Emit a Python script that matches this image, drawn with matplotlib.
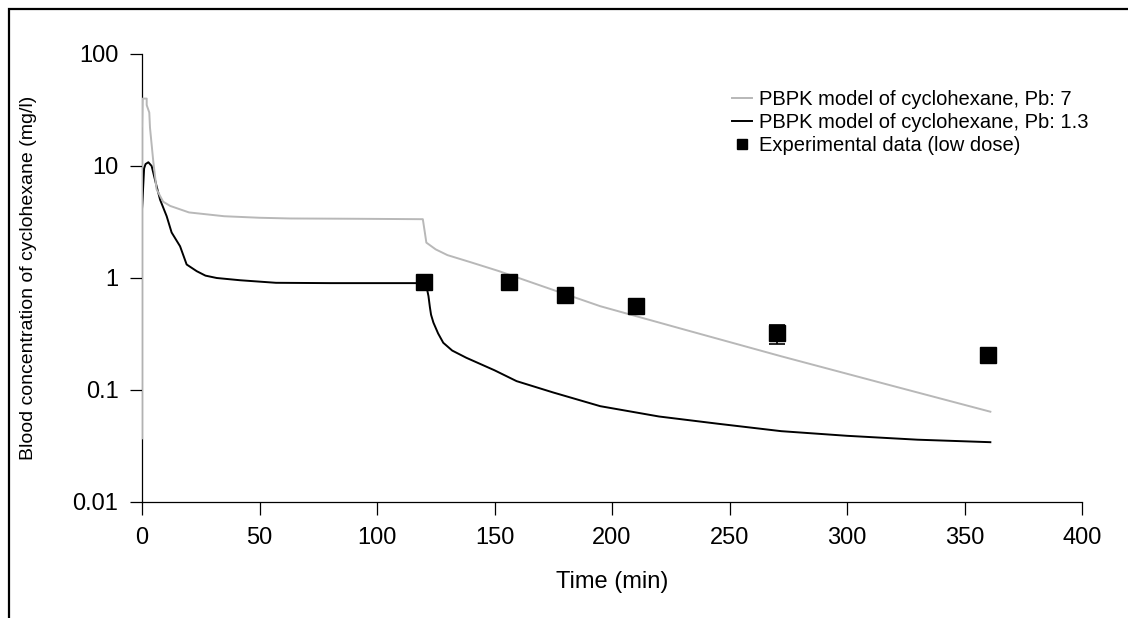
import matplotlib
matplotlib.use("Agg")
import matplotlib.pyplot as plt
from matplotlib.patches import Rectangle
from matplotlib.lines import Line2D
from matplotlib.ticker import FixedLocator, FixedFormatter, NullLocator

plt.rcParams["font.family"] = ["Liberation Sans", "DejaVu Sans"]

# PBPK model, Pb: 7 (grey)
t_pb7 = [0, 0, 0.3, 2.0, 2.0, 3.1, 3.4, 4.8, 6.2, 9, 12, 20, 35, 50, 63, 90, 119.5,
         120.3, 121, 125, 130, 140, 152, 170, 195, 230, 272, 320, 361]
c_pb7 = [0.037, 22, 40, 40, 35, 30, 22, 11, 6.2, 4.8, 4.4, 3.85, 3.56, 3.45, 3.4, 3.38, 3.35,
         2.6, 2.07, 1.8, 1.6, 1.38, 1.15, 0.85, 0.56, 0.35, 0.20, 0.108, 0.064]

# PBPK model, Pb: 1.3 (black)
t_pb13 = [0, 0, 0.9, 1.5, 2.7, 4.1, 6.2, 7.7, 10.5, 12.6, 16.2, 19, 23.3, 27, 31.8, 41.7, 57,
          80, 100, 120, 121, 121.9, 122.5, 123, 124, 126, 128.2, 132, 138, 150, 159.4, 175,
          195, 220, 245, 272, 300, 330, 361]
c_pb13 = [0.001, 4.1, 9.5, 10.4, 10.8, 10.0, 6.6, 5.0, 3.56, 2.55, 1.92, 1.32, 1.15, 1.05, 1.0,
          0.955, 0.906, 0.9, 0.9, 0.9, 0.85, 0.69, 0.55, 0.47, 0.40, 0.32, 0.264, 0.225, 0.194,
          0.15, 0.12, 0.095, 0.0717, 0.058, 0.05, 0.0429, 0.039, 0.036, 0.0342]

# experimental data (low dose)
t_exp = [120, 156, 180, 210, 270, 360]
c_exp = [0.92, 0.92, 0.71, 0.56, 0.32, 0.205]
err_exp = [0.04, 0.05, 0.05, 0.045, 0.062, 0.005]

fig = plt.figure(figsize=(11.28, 6.18), dpi=100)
ax = fig.add_axes([142 / 1128, 1 - 502 / 618, 940 / 1128, 448 / 618])

l13, = ax.plot(t_pb13, c_pb13, color="black", lw=1.4, zorder=2)
l7, = ax.plot(t_pb7, c_pb7, color="#b8b8b8", lw=1.4, zorder=3)
ax.errorbar(t_exp, c_exp, yerr=err_exp, fmt="s", color="black", ms=11.5,
            ecolor="black", elinewidth=1.2, capsize=5.5, capthick=1.2, zorder=4)

ax.set_yscale("log")
ax.set_xlim(0, 400)
ax.set_ylim(0.01, 100)
ax.yaxis.set_major_locator(FixedLocator([0.01, 0.1, 1, 10, 100]))
ax.yaxis.set_major_formatter(FixedFormatter(["0.01", "0.1", "1", "10", "100"]))
ax.yaxis.set_minor_locator(NullLocator())
ax.set_xticks(range(0, 401, 50))

for s in ["top", "right"]:
    ax.spines[s].set_visible(False)
for s in ["left", "bottom"]:
    ax.spines[s].set_linewidth(0.9)
ax.tick_params(axis="both", length=9, width=0.9, labelsize=17, direction="out")
ax.tick_params(axis="x", pad=9)
ax.tick_params(axis="y", pad=8)

ax.set_xlabel("Time (min)", fontsize=17)
ax.xaxis.set_label_coords(0.5, -0.155)
ax.set_ylabel("Blood concentration of cyclohexane (mg/l)", fontsize=14)
ax.yaxis.set_label_coords(-0.112, 0.5)

sq = Line2D([], [], ls="none", marker="s", color="black", ms=7)
ax.legend([l7, l13, sq],
          ["PBPK model of cyclohexane, Pb: 7",
           "PBPK model of cyclohexane, Pb: 1.3",
           "Experimental data (low dose)"],
          loc="upper left", bbox_to_anchor=(722 / 1128, 1 - 80 / 618),
          bbox_transform=fig.transFigure, frameon=False, fontsize=14.5,
          handlelength=1.0, handletextpad=0.35, labelspacing=0.2, borderpad=0)

# outer frame (left and top edges visible, rest cropped)
fig.patches.append(Rectangle((8.5 / 1128, -0.2), 1.5, 1.2 - 9 / 618,
                             transform=fig.transFigure, fill=False,
                             edgecolor="black", lw=1.6, clip_on=False))

fig.savefig("out.png", dpi=100)
